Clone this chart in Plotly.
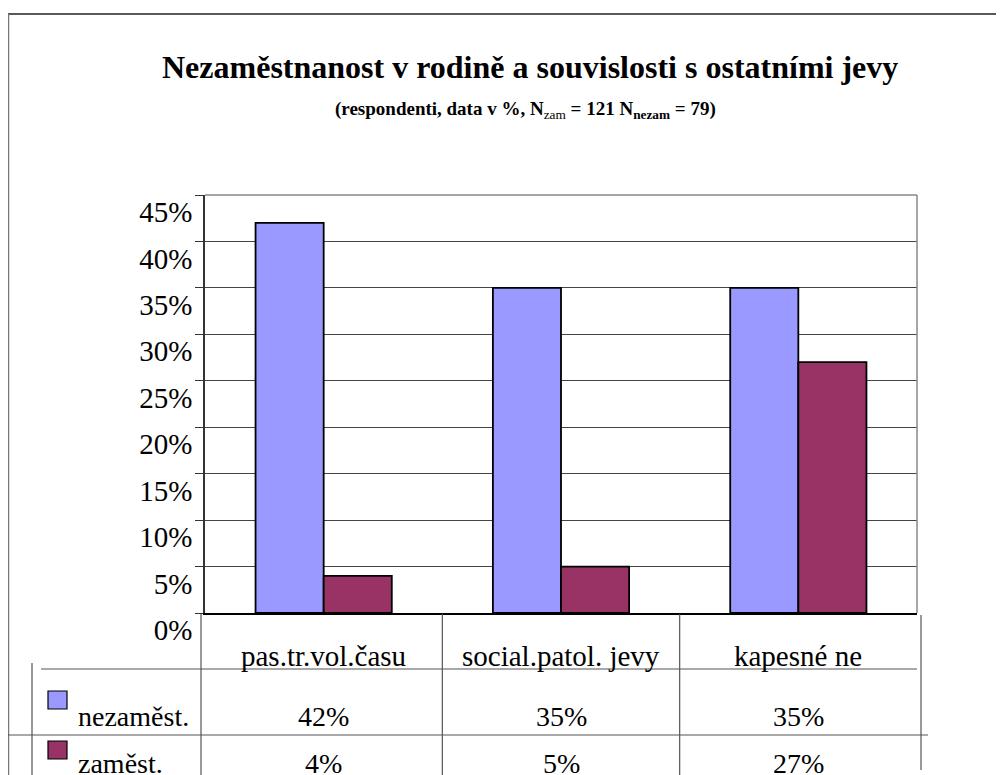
import plotly.graph_objects as go

categories = ["pas.tr.vol.času", "social.patol. jevy", "kapesné ne"]
series_names = ["nezaměst.", "zaměst."]
nezamest = [42, 35, 35]
zamest = [4, 5, 27]
colors = ["#9999FF", "#993366"]
y_ticks = [0, 5, 10, 15, 20, 25, 30, 35, 40, 45]

OFF = 8  # page body margin
W, H = 1004 - OFF, 775 - OFF
FONT = "Liberation Serif, Times New Roman, serif"

def px(x):
    return (x - OFF) / W

def py(y):
    return 1 - (y - OFF) / H

fig = go.Figure()
for name, vals, col in zip(series_names, [nezamest, zamest], colors):
    fig.add_trace(go.Bar(
        x=categories, y=vals, name=name,
        marker=dict(color=col, line=dict(color="black", width=1.8)),
        showlegend=False,
    ))

shapes = []
line_col = "#555555"
# outer chart border (top and left)
shapes.append(dict(type="line", xref="paper", yref="paper", x0=px(8), x1=1.0, y0=py(14), y1=py(14), line=dict(color="#222222", width=1.5)))
shapes.append(dict(type="line", xref="paper", yref="paper", x0=px(8.5), x1=px(8.5), y0=py(14), y1=0, line=dict(color="#777777", width=1.5)))
# plot area frame: top and right
shapes.append(dict(type="line", xref="paper", yref="paper", x0=px(205), x1=px(917), y0=py(195), y1=py(195), line=dict(color="#888888", width=1.5)))
shapes.append(dict(type="line", xref="paper", yref="paper", x0=px(917), x1=px(917), y0=py(195), y1=py(613), line=dict(color="#888888", width=1.5)))
# data table lines
shapes.append(dict(type="line", xref="paper", yref="paper", x0=px(32), x1=px(32), y0=py(663), y1=0, line=dict(color=line_col, width=1.2)))
shapes.append(dict(type="line", xref="paper", yref="paper", x0=px(41), x1=px(917), y0=py(669), y1=py(669), line=dict(color=line_col, width=1.2)))
shapes.append(dict(type="line", xref="paper", yref="paper", x0=px(8), x1=px(928), y0=py(735), y1=py(735), line=dict(color=line_col, width=1.2)))
shapes.append(dict(type="line", xref="paper", yref="paper", x0=px(201), x1=px(201), y0=py(614), y1=0, line=dict(color=line_col, width=1.2)))
for i in range(1, len(categories)):
    shapes.append(dict(type="line", xref="x", yref="paper", x0=i - 0.5, x1=i - 0.5, y0=py(614), y1=0, line=dict(color=line_col, width=1.2)))
shapes.append(dict(type="line", xref="paper", yref="paper", x0=px(921), x1=px(921), y0=py(615), y1=py(770), line=dict(color=line_col, width=1.2)))
# legend keys in table
key_rows = [(691, 709), (741, 759)]
for (y0, y1), col in zip(key_rows, colors):
    shapes.append(dict(type="rect", xref="paper", yref="paper", x0=px(48), x1=px(67), y0=py(y1), y1=py(y0), fillcolor=col, line=dict(color="black", width=1.2)))

annotations = []
annotations.append(dict(text="<b>Nezaměstnanost v rodině a souvislosti s ostatními jevy</b>",
                        xref="paper", yref="paper", x=px(530), y=py(67), showarrow=False,
                        xanchor="center", yanchor="middle", font=dict(family=FONT, size=32, color="black")))
annotations.append(dict(text="<b>(respondenti, data v %, N</b><sub>zam</sub><b> = 121 N<sub>nezam</sub> = 79)</b>",
                        xref="paper", yref="paper", x=px(525), y=py(110), showarrow=False,
                        xanchor="center", yanchor="middle", font=dict(family=FONT, size=19, color="black")))
for c in categories:
    annotations.append(dict(text=c, xref="x", yref="paper", x=c, y=py(656), showarrow=False,
                            xanchor="center", yanchor="middle", font=dict(family=FONT, size=29, color="black")))
row_y = [716, 763]
for name, vals, ry in zip(series_names, [nezamest, zamest], row_y):
    annotations.append(dict(text=name, xref="paper", yref="paper", x=px(76), y=py(ry), showarrow=False,
                            xanchor="left", yanchor="middle", font=dict(family=FONT, size=28, color="black")))
    for c, v in zip(categories, vals):
        annotations.append(dict(text=f"{v}%", xref="x", yref="paper", x=c, y=py(ry), showarrow=False,
                                xanchor="center", yanchor="middle", font=dict(family=FONT, size=28, color="black")))

fig.update_layout(
    width=W, height=H,
    margin=dict(l=0, r=0, t=0, b=0),
    paper_bgcolor="white", plot_bgcolor="white",
    barmode="group", bargap=0.426, bargroupgap=0,
    shapes=shapes, annotations=annotations,
    xaxis=dict(domain=[px(205), px(917)], showticklabels=False, showgrid=False,
               showline=True, linecolor="black", linewidth=2, ticks="", zeroline=False,
               range=[-0.5, 2.5], automargin=False),
    yaxis=dict(domain=[py(613), py(195)], range=[0, 45], tickvals=y_ticks,
               ticktext=[f"{t}%" for t in y_ticks], showgrid=True, gridcolor="#444444", gridwidth=1,
               showline=True, linecolor="#333333", linewidth=1.5, ticks="outside", ticklen=8,
               tickcolor="#333333", tickwidth=1.2, zeroline=False, automargin=False,
               ticklabelshift=17, ticklabelstandoff=-3,
               tickfont=dict(family=FONT, size=29, color="black")),
)

fig.write_html("out.html")
